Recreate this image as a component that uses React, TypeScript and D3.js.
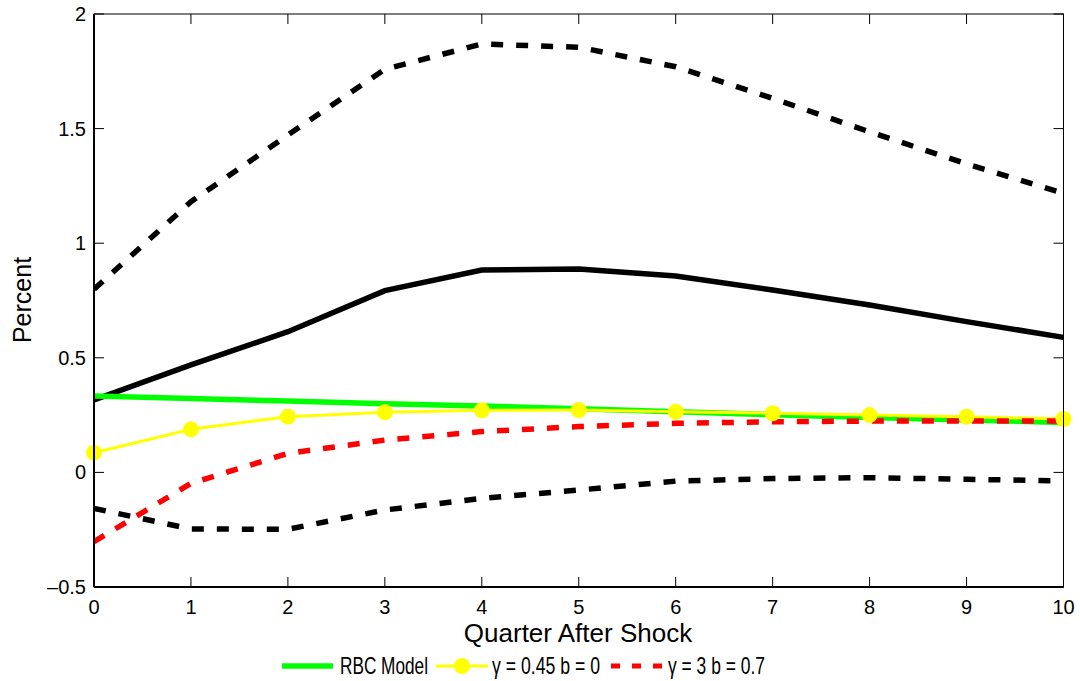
import React from "react";
import * as d3 from "d3";

// Impulse responses, quarters 0..10
const quarters = [0, 1, 2, 3, 4, 5, 6, 7, 8, 9, 10];
const dataMedian = [0.316, 0.469, 0.614, 0.793, 0.883, 0.887, 0.857, 0.796, 0.73, 0.658, 0.589];
const dataUpper = [0.799, 1.181, 1.472, 1.759, 1.869, 1.855, 1.77, 1.632, 1.486, 1.346, 1.218];
const dataLower = [-0.157, -0.247, -0.248, -0.164, -0.113, -0.077, -0.038, -0.027, -0.023, -0.03, -0.037];
const rbcModel = [0.333, 0.322, 0.311, 0.3, 0.29, 0.278, 0.265, 0.252, 0.24, 0.229, 0.218];
const habitLow = [0.086, 0.188, 0.243, 0.262, 0.271, 0.272, 0.265, 0.258, 0.25, 0.243, 0.233];
const habitHigh = [-0.302, -0.048, 0.083, 0.141, 0.178, 0.2, 0.214, 0.221, 0.224, 0.224, 0.224];

const xTicks = [0, 1, 2, 3, 4, 5, 6, 7, 8, 9, 10];
const yTicks = [-0.5, 0, 0.5, 1, 1.5, 2];

const W = 1080;
const H = 681;
const M = { left: 94, right: 1063.5, top: 14, bottom: 587 };
const FONT = "'Liberation Sans', Arial, Helvetica, sans-serif";

export default function App() {
  const x = d3.scaleLinear().domain([0, 10]).range([M.left, M.right]);
  const y = d3.scaleLinear().domain([-0.5, 2]).range([M.bottom, M.top]);
  const line = d3
    .line<number>()
    .x((_, i) => x(quarters[i]))
    .y((d) => y(d));

  const fmtY = (v: number) => (v < 0 ? "\u2013" + String(Math.abs(v)) : String(v));
  const dash = "12,13";

  return (
    <svg
      width={W}
      height={H}
      style={{ position: "absolute", left: 0, top: 0, background: "#fff" }}
      fontFamily={FONT}
    >
      <defs>
        <clipPath id="plot">
          <rect x={M.left} y={M.top} width={M.right - M.left} height={M.bottom - M.top} />
        </clipPath>
      </defs>
      <rect x={0} y={0} width={W} height={H} fill="#fff" />

      <g clipPath="url(#plot)" fill="none" strokeLinejoin="miter">
        <path d={line(dataUpper) || ""} stroke="#000" strokeWidth={5.5} strokeDasharray={dash} />
        <path d={line(dataLower) || ""} stroke="#000" strokeWidth={5.5} strokeDasharray={dash} />
        <path d={line(dataMedian) || ""} stroke="#000" strokeWidth={5.5} />
        <path d={line(rbcModel) || ""} stroke="#00ff00" strokeWidth={5.5} />
        <path d={line(habitLow) || ""} stroke="#ffff00" strokeWidth={3} />
        <path d={line(habitHigh) || ""} stroke="#ff0000" strokeWidth={5.5} strokeDasharray={dash} />
      </g>
      <g>
        {habitLow.map((v, i) => (
          <circle key={i} cx={x(quarters[i])} cy={y(v)} r={8} fill="#ffff00" />
        ))}
      </g>

      {/* axes box */}
      <rect
        x={M.left}
        y={M.top}
        width={M.right - M.left}
        height={M.bottom - M.top}
        fill="none"
        stroke="#000"
        strokeWidth={1}
      />
      <line x1={M.left} x2={M.left} y1={M.top} y2={M.bottom} stroke="#000" strokeWidth={2} />
      <line x1={M.left} x2={M.right} y1={M.bottom} y2={M.bottom} stroke="#000" strokeWidth={2} />

      {/* ticks */}
      {xTicks.map((t) => (
        <g key={"x" + t}>
          <line x1={x(t)} x2={x(t)} y1={M.bottom} y2={M.bottom - 10} stroke="#000" strokeWidth={1} />
          <line x1={x(t)} x2={x(t)} y1={M.top} y2={M.top + 10} stroke="#000" strokeWidth={1} />
          <text x={x(t)} y={M.bottom + 27} fontSize={20} textAnchor="middle" fill="#000">
            {t}
          </text>
        </g>
      ))}
      {yTicks.map((t) => (
        <g key={"y" + t}>
          <line x1={M.left} x2={M.left + 10} y1={y(t)} y2={y(t)} stroke="#000" strokeWidth={1} />
          <line x1={M.right} x2={M.right - 10} y1={y(t)} y2={y(t)} stroke="#000" strokeWidth={1} />
          <text x={M.left - 8} y={y(t) + 7} fontSize={20} textAnchor="end" fill="#000">
            {fmtY(t)}
          </text>
        </g>
      ))}

      {/* axis titles */}
      <text x={578} y={642} fontSize={26} textAnchor="middle" fill="#000">
        Quarter After Shock
      </text>
      <text
        transform={`translate(31, 300) rotate(-90)`}
        fontSize={25}
        textAnchor="middle"
        fill="#000"
      >
        Percent
      </text>

      {/* legend (condensed text) */}
      <g fontSize={24} fill="#000">
        <line x1={282} x2={333} y1={666} y2={666} stroke="#00ff00" strokeWidth={5.5} />
        <text x={340} y={674} textLength={88} lengthAdjust="spacingAndGlyphs">
          RBC Model
        </text>
        <line x1={436} x2={488} y1={666} y2={666} stroke="#ffff00" strokeWidth={3} />
        <circle cx={462} cy={666} r={8} fill="#ffff00" />
        <text x={492} y={674} textLength={108} lengthAdjust="spacingAndGlyphs">
          γ = 0.45 b = 0
        </text>
        <line
          x1={611}
          x2={663}
          y1={666}
          y2={666}
          stroke="#ff0000"
          strokeWidth={5}
          strokeDasharray="9,12"
        />
        <text x={668} y={674} textLength={97} lengthAdjust="spacingAndGlyphs">
          γ = 3 b = 0.7
        </text>
      </g>
    </svg>
  );
}
